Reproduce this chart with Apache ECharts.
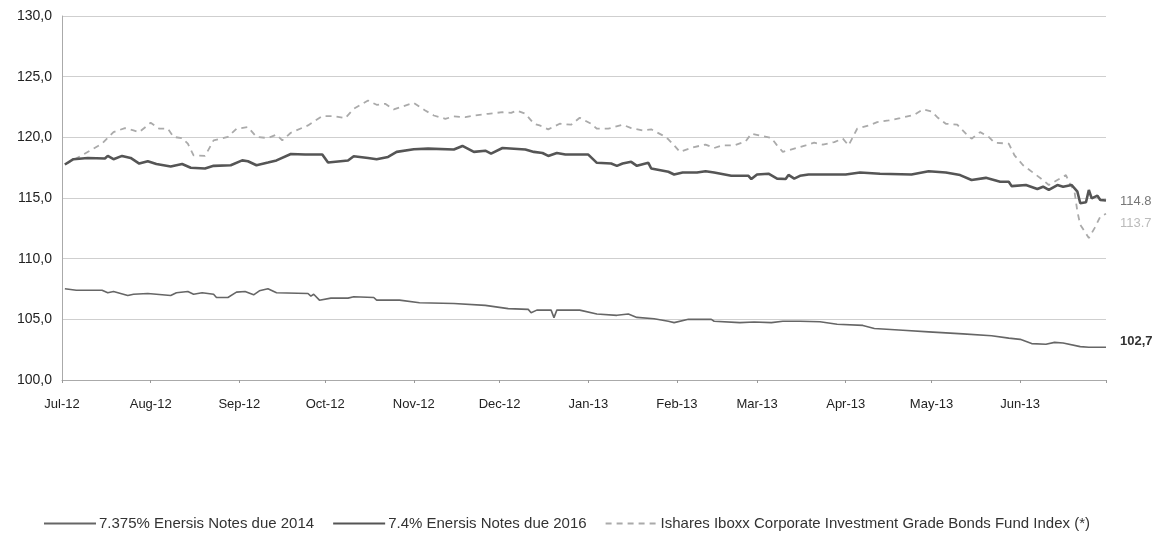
<!DOCTYPE html>
<html>
<head>
<meta charset="utf-8">
<script src="https://cdn.jsdelivr.net/npm/echarts@6/dist/echarts.min.js"></script>
<style>
html,body{margin:0;padding:0;background:#fff;}
#chart{width:1166px;height:543px;}
</style>
</head>
<body>
<div id="chart"></div>
<script>
// ---- DATA ----
var seriesNames = [
  '7.375% Enersis Notes due 2014',
  '7.4% Enersis Notes due 2016',
  'Ishares Iboxx Corporate Investment Grade Bonds Fund Index (*)'
];
var monthAbbr = ['Jan','Feb','Mar','Apr','May','Jun','Jul','Aug','Sep','Oct','Nov','Dec'];
var yTicks = [100, 105, 110, 115, 120, 125, 130];
var endLabels = ['102,7', '114.8', '113.7'];

var dates2014 = ['2012-07-02','2012-07-06','2012-07-15','2012-07-17','2012-07-19','2012-07-24','2012-07-26','2012-07-31',
 '2012-08-08','2012-08-10','2012-08-14','2012-08-16','2012-08-19','2012-08-23','2012-08-24','2012-08-28','2012-08-31',
 '2012-09-03','2012-09-06','2012-09-08','2012-09-11','2012-09-14','2012-09-25','2012-09-26','2012-09-27','2012-09-29',
 '2012-10-03','2012-10-09','2012-10-11','2012-10-18','2012-10-19','2012-10-27','2012-11-03','2012-11-15','2012-11-26',
 '2012-12-04','2012-12-11','2012-12-12','2012-12-14','2012-12-19','2012-12-20','2012-12-21','2012-12-29',
 '2013-01-04','2013-01-11','2013-01-15','2013-01-18','2013-01-24','2013-01-29','2013-01-31','2013-02-05','2013-02-13',
 '2013-02-14','2013-02-23','2013-02-28','2013-03-06','2013-03-10','2013-03-16','2013-03-23','2013-03-29','2013-04-07',
 '2013-04-11','2013-04-21','2013-04-30','2013-05-12','2013-05-22','2013-05-28','2013-06-01','2013-06-05','2013-06-10',
 '2013-06-13','2013-06-16','2013-06-22','2013-06-25','2013-07-01'];
var values2014 = [107.52,107.40,107.40,107.19,107.30,106.97,107.07,107.13,
 106.97,107.19,107.30,107.07,107.19,107.07,106.80,106.80,107.24,
 107.30,107.02,107.35,107.52,107.19,107.13,106.91,107.07,106.58,
 106.75,106.75,106.86,106.80,106.58,106.58,106.37,106.31,106.15,
 105.88,105.82,105.55,105.76,105.76,105.14,105.76,105.76,
 105.44,105.33,105.44,105.16,105.05,104.84,104.73,105.00,105.00,
 104.84,104.73,104.78,104.73,104.84,104.84,104.80,104.60,104.50,
 104.25,104.10,103.97,103.80,103.65,103.45,103.35,103.00,102.95,
 103.10,103.05,102.75,102.70,102.70];

var dates2016 = ['2012-07-02','2012-07-05','2012-07-10','2012-07-16','2012-07-17','2012-07-19','2012-07-22','2012-07-25',
 '2012-07-28','2012-07-31','2012-08-03','2012-08-08','2012-08-12','2012-08-15','2012-08-20','2012-08-23','2012-08-29',
 '2012-09-02','2012-09-04','2012-09-07','2012-09-11','2012-09-14','2012-09-19','2012-09-24','2012-09-30','2012-10-02',
 '2012-10-09','2012-10-11','2012-10-16','2012-10-19','2012-10-23','2012-10-26','2012-11-01','2012-11-06','2012-11-15',
 '2012-11-18','2012-11-22','2012-11-26','2012-11-28','2012-12-02','2012-12-10','2012-12-13','2012-12-16','2012-12-18',
 '2012-12-21','2012-12-24','2013-01-01','2013-01-04','2013-01-09','2013-01-11','2013-01-13','2013-01-16','2013-01-18',
 '2013-01-22','2013-01-23','2013-01-29','2013-01-31','2013-02-03','2013-02-08','2013-02-11','2013-02-14','2013-02-20',
 '2013-02-26','2013-02-27','2013-03-01','2013-03-05','2013-03-08','2013-03-11','2013-03-12','2013-03-14','2013-03-16',
 '2013-03-19','2013-04-01','2013-04-06','2013-04-13','2013-04-24','2013-04-30','2013-05-06','2013-05-11','2013-05-15',
 '2013-05-20','2013-05-25','2013-05-28','2013-05-29','2013-06-03','2013-06-07','2013-06-09','2013-06-11','2013-06-14',
 '2013-06-16','2013-06-19','2013-06-21','2013-06-22','2013-06-24','2013-06-25','2013-06-26','2013-06-28','2013-06-29',
 '2013-07-01'];
var values2016 = [117.76,118.20,118.30,118.25,118.47,118.20,118.47,118.30,
 117.84,118.03,117.80,117.60,117.80,117.49,117.43,117.65,117.70,
 118.10,118.03,117.70,117.92,118.10,118.63,118.58,118.58,117.92,
 118.09,118.44,118.30,118.20,118.38,118.80,119.02,119.07,119.00,
 119.29,118.80,118.90,118.66,119.12,119.00,118.80,118.71,118.47,
 118.71,118.58,118.58,117.90,117.84,117.65,117.84,117.98,117.65,
 117.90,117.43,117.16,116.94,117.10,117.10,117.21,117.10,116.83,
 116.83,116.56,116.94,117.00,116.60,116.56,116.90,116.60,116.83,
 116.94,116.94,117.10,117.00,116.94,117.21,117.10,116.89,116.48,
 116.66,116.34,116.34,115.98,116.07,115.74,115.93,115.66,116.07,
 115.93,116.07,115.52,114.57,114.65,115.66,114.97,115.19,114.84,
 114.80];

var datesIndex = ['2012-07-02','2012-07-08','2012-07-11','2012-07-15','2012-07-19','2012-07-23','2012-07-26','2012-07-28',
 '2012-08-01','2012-08-04','2012-08-07','2012-08-09','2012-08-12','2012-08-14','2012-08-16','2012-08-20','2012-08-23',
 '2012-08-28','2012-08-31','2012-09-04','2012-09-07','2012-09-11','2012-09-14','2012-09-16','2012-09-19','2012-09-25',
 '2012-09-30','2012-10-04','2012-10-08','2012-10-11','2012-10-16','2012-10-19','2012-10-22','2012-10-25','2012-10-29',
 '2012-11-01','2012-11-05','2012-11-08','2012-11-12','2012-11-15','2012-11-19','2012-11-22','2012-11-27','2012-12-02',
 '2012-12-05','2012-12-07','2012-12-10','2012-12-13','2012-12-15','2012-12-18','2012-12-22','2012-12-26','2012-12-29',
 '2013-01-02','2013-01-04','2013-01-08','2013-01-13','2013-01-16','2013-01-20','2013-01-23','2013-01-27','2013-01-29',
 '2013-01-31','2013-02-02','2013-02-07','2013-02-11','2013-02-14','2013-02-17','2013-02-21','2013-02-25','2013-02-27',
 '2013-03-03','2013-03-06','2013-03-08','2013-03-10','2013-03-14','2013-03-18','2013-03-21','2013-03-24','2013-03-28',
 '2013-03-31','2013-04-02','2013-04-05','2013-04-09','2013-04-12','2013-04-16','2013-04-20','2013-04-25','2013-04-28',
 '2013-05-01','2013-05-03','2013-05-06','2013-05-10','2013-05-13','2013-05-15','2013-05-18','2013-05-21','2013-05-23',
 '2013-05-28','2013-05-30','2013-06-02','2013-06-06','2013-06-09','2013-06-11','2013-06-14','2013-06-17','2013-06-18',
 '2013-06-20','2013-06-21','2013-06-22','2013-06-25','2013-06-27','2013-06-29','2013-07-01'];
var valuesIndex = [117.76,118.52,118.93,119.48,120.43,120.76,120.57,120.43,
 121.20,120.71,120.71,120.03,119.94,119.48,118.52,118.47,119.75,
 120.03,120.71,120.84,120.03,119.94,120.22,119.75,120.38,120.98,
 121.75,121.75,121.58,122.35,123.03,122.68,122.76,122.30,122.62,
 122.84,122.21,121.80,121.53,121.72,121.66,121.80,121.94,122.07,
 122.02,122.21,121.94,121.12,120.98,120.66,121.12,121.04,121.61,
 121.12,120.71,120.71,121.04,120.76,120.57,120.66,120.16,119.84,
 119.34,118.80,119.20,119.40,119.12,119.34,119.34,119.67,120.30,
 120.11,119.94,119.34,118.80,119.07,119.34,119.56,119.40,119.61,
 119.89,119.34,120.71,120.98,121.25,121.39,121.58,121.86,122.30,
 122.13,121.66,121.12,121.04,120.30,119.89,120.43,120.03,119.56,
 119.48,118.52,117.70,117.00,116.48,116.07,116.48,116.89,116.34,
 115.52,113.88,112.79,111.70,112.52,113.47,113.70];

function zip(d, v) { return d.map(function (x, i) { return [x, v[i]]; }); }

var chart = echarts.init(document.getElementById('chart'));
var FONT = 'Liberation Sans, Arial, sans-serif';
chart.setOption({
  animation: false,
  backgroundColor: '#fff',
  textStyle: { fontFamily: FONT },
  grid: { left: 62, right: 60, top: 16, bottom: 163, containLabel: false },
  legend: {
    bottom: 7, left: 38,
    itemWidth: 52, itemHeight: 10, itemGap: 18,
    itemStyle: { opacity: 0 },
    textStyle: { fontSize: 15, color: '#333', fontFamily: FONT, padding: [0, 0, 0, -2] },
    data: seriesNames
  },
  xAxis: {
    type: 'time',
    min: '2012-07-01', max: '2013-07-01',
    splitNumber: 12,
    minInterval: 28 * 86400000,
    maxInterval: 31 * 86400000,
    axisLine: { show: true, lineStyle: { color: '#aaa', width: 1 } },
    axisTick: { show: true, length: 3, lineStyle: { color: '#999' } },
    splitLine: { show: false },
    axisLabel: {
      color: '#222', fontSize: 13, margin: 18,
      hideOverlap: false,
      formatter: function (v) {
        var d = new Date(v);
        if (d.getFullYear() === 2013 && d.getMonth() === 6) { return ''; }
        return monthAbbr[d.getMonth()] + '-' + String(d.getFullYear()).slice(2);
      }
    }
  },
  yAxis: {
    type: 'value',
    min: yTicks[0], max: yTicks[yTicks.length - 1], interval: 5,
    axisLine: { show: true, lineStyle: { color: '#aaa', width: 1 } },
    axisTick: { show: false },
    splitLine: { show: true, lineStyle: { color: '#cfcfcf', width: 1 } },
    axisLabel: {
      color: '#222', fontSize: 14, margin: 10,
      formatter: function (v) { return v.toFixed(1).replace('.', ','); }
    }
  },
  series: [
    {
      name: seriesNames[0], type: 'line', showSymbol: false, symbol: 'none',
      data: zip(dates2014, values2014),
      lineStyle: { color: '#666', width: 1.6 },
      itemStyle: { color: '#666' },
      endLabel: { show: true, formatter: endLabels[0], color: '#333', fontWeight: 'bold', fontSize: 13, offset: [6, -6] },
      z: 3
    },
    {
      name: seriesNames[1], type: 'line', showSymbol: false, symbol: 'none',
      data: zip(dates2016, values2016),
      lineStyle: { color: '#555', width: 2.6 },
      itemStyle: { color: '#555' },
      endLabel: { show: true, formatter: endLabels[1], color: '#777', fontSize: 13, offset: [6, 1] },
      z: 4
    },
    {
      name: seriesNames[2], type: 'line', showSymbol: false, symbol: 'none',
      data: zip(datesIndex, valuesIndex),
      lineStyle: { color: '#aaa', width: 1.8, type: [6, 5] },
      itemStyle: { color: '#aaa' },
      endLabel: { show: true, formatter: endLabels[2], color: '#bbb', fontSize: 13, offset: [6, 10] },
      z: 2
    }
  ]
});
</script>
</body>
</html>
